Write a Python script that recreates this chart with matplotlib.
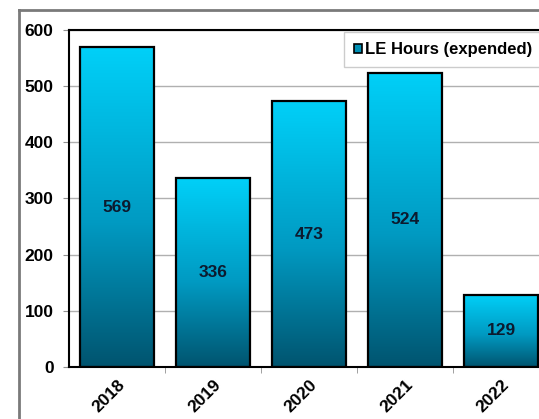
import matplotlib.pyplot as plt
import numpy as np
from matplotlib.lines import Line2D
from matplotlib.colors import LinearSegmentedColormap
from matplotlib.patches import Patch

years = ['2018', '2019', '2020', '2021', '2022']
hours = [569, 336, 473, 524, 129]
series_name = 'LE Hours (expended)'

plt.rcParams['font.family'] = ['Liberation Sans', 'DejaVu Sans']
plt.rcParams['font.weight'] = 'bold'

grad = LinearSegmentedColormap.from_list(
    'bar', [(0.0, '#00546f'), (0.45, '#009ac2'), (1.0, '#00d0f8')])


def main():
    fig = plt.figure(figsize=(5.39, 4.19), dpi=100)
    ax = fig.add_axes([69 / 539, 1 - 367 / 419, 480 / 539, 337 / 419])

    x = np.arange(len(years))
    bars = ax.bar(x, hours, width=0.77, facecolor='none', edgecolor='black',
                  linewidth=1.6, zorder=3)

    # gradient fill per bar, clipped to the bar outline
    g = np.linspace(0, 1, 256).reshape(-1, 1)
    for b in bars:
        x0, w, h = b.get_x(), b.get_width(), b.get_height()
        im = ax.imshow(g, cmap=grad, origin='lower', aspect='auto',
                       extent=[x0, x0 + w, 0, h], zorder=2)
        im.set_clip_path(b)
        ax.text(x0 + w / 2, h / 2, str(int(h)), ha='center', va='center',
                fontsize=12.5, fontweight='bold', color='#0c1a2e', zorder=4)

    ax.set_xlim(-0.5, len(years) - 0.5)
    ax.set_ylim(0, 600)
    ax.set_yticks(range(0, 601, 100))
    ax.yaxis.grid(True, color='#b0b0b0', linewidth=1)
    ax.set_axisbelow(True)

    ax.set_xticks(x)
    ax.set_xticklabels(years, rotation=45, ha='right', rotation_mode='anchor',
                       fontsize=12.5, fontweight='bold')
    ax.tick_params(axis='x', length=0, pad=7)
    ax.set_xticks(np.arange(0.5, len(years) - 0.5), minor=True)
    ax.tick_params(axis='x', which='minor', length=4, color='#909090')
    ax.tick_params(axis='y', length=4, color='#909090', labelsize=12.5, pad=7)
    for lab in ax.get_yticklabels():
        lab.set_fontweight('bold')

    for s in ['left', 'top', 'bottom']:
        ax.spines[s].set_color('black')
        ax.spines[s].set_linewidth(1.5)
    ax.spines['right'].set_visible(False)

    handle = Patch(facecolor='#0090b5', edgecolor='black', linewidth=1.2)
    leg = ax.legend([handle], [series_name], loc='upper left',
                    bbox_to_anchor=(0.573, 0.993), borderaxespad=0,
                    fancybox=False, handlelength=0.5, handleheight=0.5,
                    handletextpad=0.15, borderpad=0.6,
                    prop={'weight': 'bold', 'size': 12})
    leg.get_frame().set_edgecolor('#c0c0c0')
    leg.get_frame().set_linewidth(1)

    # outer chart frame (cropped)
    fig.add_artist(Line2D([19 / 539, 19 / 539], [0, 1 - 10 / 419],
                          color='#7a7a7a', linewidth=2))
    fig.add_artist(Line2D([19 / 539, 1], [1 - 10 / 419, 1 - 10 / 419],
                          color='#7a7a7a', linewidth=2))

    fig.savefig('out.png', dpi=100)


if __name__ == '__main__':
    main()
